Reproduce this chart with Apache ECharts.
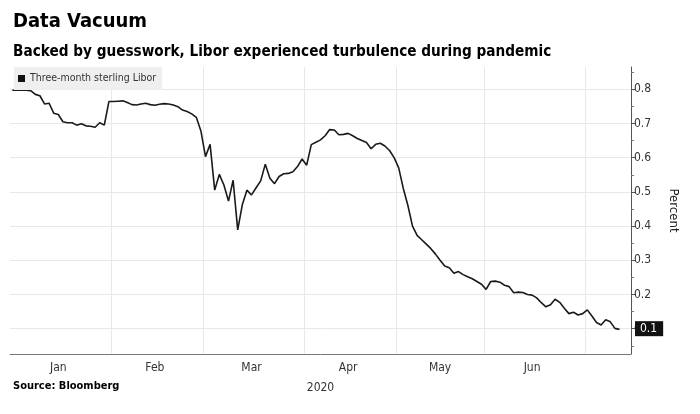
<!DOCTYPE html>
<html><head><meta charset="utf-8">
<script src="https://cdn.jsdelivr.net/npm/echarts@6/dist/echarts.min.js"></script>
<style>html,body{margin:0;padding:0;background:#fff}#c{width:700px;height:414px}</style>
</head><body><div id="c"></div>
<script>
// ---- data (2020 trading days, three-month sterling Libor, %) ----
const monthNames = ['Jan', 'Feb', 'Mar', 'Apr', 'May', 'Jun', 'Jul'];
const janDays = [2,3,6,7,8,9,10,13,14,15,16,17,20,21,22,23,24,27,28,29,30,31];
const janValues = [0.797,0.797,0.797,0.797,0.796,0.785,0.781,0.757,0.759,0.730,0.726,0.705,0.702,0.702,0.695,0.699,0.693,0.692,0.689,0.702,0.695,0.764];
const febDays = [3,4,5,6,7,10,11,12,13,14,17,18,19,20,21,24,25,26,27,28];
const febValues = [0.764,0.765,0.766,0.761,0.755,0.754,0.757,0.759,0.755,0.753,0.756,0.758,0.757,0.754,0.749,0.739,0.735,0.728,0.718,0.678];
const marDays = [2,3,4,5,6,9,10,11,12,13,16,17,18,19,20,23,24,25,26,27,30,31];
const marValues = [0.603,0.639,0.505,0.551,0.520,0.473,0.534,0.389,0.462,0.505,0.491,0.512,0.532,0.581,0.540,0.524,0.545,0.553,0.554,0.559,0.574,0.596];
const aprDays = [1,2,3,6,7,8,9,14,15,16,17,20,21,22,23,24,27,28,29,30];
const aprValues = [0.578,0.638,0.645,0.652,0.664,0.682,0.681,0.667,0.668,0.671,0.664,0.656,0.650,0.644,0.626,0.639,0.642,0.634,0.621,0.600];
const mayDays = [1,4,5,6,7,11,12,13,14,15,18,19,20,21,22,26,27,28,29];
const mayValues = [0.570,0.510,0.460,0.400,0.373,0.360,0.347,0.334,0.318,0.300,0.283,0.278,0.262,0.267,0.258,0.252,0.246,0.238,0.230];
const junDays = [1,2,3,4,5,8,9,10,11,12,15,16,17,18,19,22,23,24,25,26,29,30];
const junValues = [0.215,0.238,0.239,0.236,0.227,0.223,0.205,0.207,0.206,0.200,0.198,0.190,0.176,0.164,0.170,0.186,0.177,0.160,0.144,0.148,0.140,0.144];
const julDays = [1,2,3,6,7,8,9,10];
const julValues = [0.155,0.137,0.118,0.111,0.126,0.120,0.101,0.098];
const axisPadDays = [13,14];           // empty July days the axis runs on to
const yTickValues = [0.1,0.2,0.3,0.4,0.5,0.6,0.7,0.8];
const yMinorTickValues = [0.05,0.15,0.25,0.35,0.45,0.55,0.65,0.75,0.85];
const seriesName = 'Three-month sterling Libor';
const yearLabel = '2020';
const yMin = 0.026, yMax = 0.865;

// ---- build category axis ----
const pad = n => (n < 10 ? '0' : '') + n;
const monthDays = [janDays, febDays, marDays, aprDays, mayDays, junDays, julDays];
const monthVals = [janValues, febValues, marValues, aprValues, mayValues, junValues, julValues];
const categories = [], values = [], monthStartIdx = [], monthLabelIdx = {};
monthDays.forEach((days, m) => {
  const start = categories.length;
  days.forEach((d, k) => { categories.push('2020-' + pad(m + 1) + '-' + pad(d)); values.push(monthVals[m][k]); });
  if (m > 0) monthStartIdx.push(start);
  if (m < 6) monthLabelIdx[Math.floor((start + categories.length - 1) / 2)] = monthNames[m];
});
axisPadDays.forEach(d => { categories.push('2020-07-' + pad(d)); values.push(null); });
const lastValue = julValues[julValues.length - 1];

const FONT = 'DejaVu Sans Condensed';
const chart = echarts.init(document.getElementById('c'), null, {renderer: 'canvas'});
chart.setOption({
  animation: false,
  backgroundColor: '#fff',
  title: [
    {text: 'Data Vacuum', left: 13, top: 12, padding: 0,
     textStyle: {fontFamily: FONT, fontWeight: 'bold', fontSize: 20, color: '#000'}},
    {text: 'Backed by guesswork, Libor experienced turbulence during pandemic', left: 13, top: 45, padding: 0,
     textStyle: {fontFamily: FONT, fontWeight: 'bold', fontSize: 15.2, color: '#000'}},
    {text: 'Source: Bloomberg', left: 13, top: 381, padding: 0,
     textStyle: {fontFamily: FONT, fontWeight: 'bold', fontSize: 11, color: '#000'}}
  ],
  legend: {
    data: [seriesName], left: 14, top: 67, icon: 'rect', itemWidth: 7, itemHeight: 7,
    padding: [6, 6, 6, 4], backgroundColor: '#efefef',
    textStyle: {fontFamily: FONT, fontSize: 10.5, color: '#333'}
  },
  grid: {left: 10, right: 69, top: 67, bottom: 60, containLabel: false},
  xAxis: {
    type: 'category', data: categories, boundaryGap: true,
    name: yearLabel, nameLocation: 'middle', nameGap: 28,
    nameTextStyle: {fontFamily: FONT, fontSize: 12, color: '#333'},
    axisLine: {lineStyle: {color: '#777', width: 1}},
    axisTick: {interval: (i) => monthStartIdx.indexOf(i) >= 0, length: 4, lineStyle: {color: '#777'}},
    splitLine: {show: true, interval: (i) => monthStartIdx.indexOf(i) >= 0, lineStyle: {color: '#e8e8e8', width: 1}},
    axisLabel: {interval: (i) => monthLabelIdx[i] !== undefined, formatter: (v, i) => monthLabelIdx[i] || '',
      fontFamily: FONT, fontSize: 12, color: '#333', margin: 8}
  },
  yAxis: [{
    type: 'value', position: 'right', min: yMin, max: yMax,
    name: 'Percent', nameLocation: 'middle', nameRotate: -90, nameGap: 36,
    nameTextStyle: {fontFamily: FONT, fontSize: 13, color: '#222'},
    axisLine: {show: true, lineStyle: {color: '#555', width: 1}},
    axisTick: {show: true, customValues: yTickValues, length: 5, lineStyle: {color: '#555'}},
    axisLabel: {customValues: yTickValues, formatter: v => v.toFixed(1), fontFamily: FONT, fontSize: 12, color: '#333', margin: 3},
    splitLine: {show: true, lineStyle: {color: '#e8e8e8', width: 1}}
  }, {
    type: 'value', position: 'right', min: yMin, max: yMax,
    axisLine: {show: false},
    axisTick: {show: true, customValues: yMinorTickValues, length: 3, lineStyle: {color: '#777'}},
    axisLabel: {show: false}, splitLine: {show: false}
  }],
  series: [{
    name: seriesName, type: 'line', data: values, yAxisIndex: 0,
    symbol: 'none', showSymbol: false, connectNulls: false,
    itemStyle: {color: '#111'},
    lineStyle: {color: '#1a1a1a', width: 1.6},
    markLine: {
      silent: true, symbol: 'none',
      lineStyle: {color: 'rgba(0,0,0,0)', width: 0, type: 'solid'},
      data: [{yAxis: lastValue}],
      label: {show: true, position: 'end', distance: 4, formatter: p => Number(p.value).toFixed(1),
        backgroundColor: '#111', color: '#fff', padding: [2, 6, 1, 5], opacity: 1,
        fontFamily: FONT, fontSize: 12}
    }
  }]
});
</script>
</body></html>
